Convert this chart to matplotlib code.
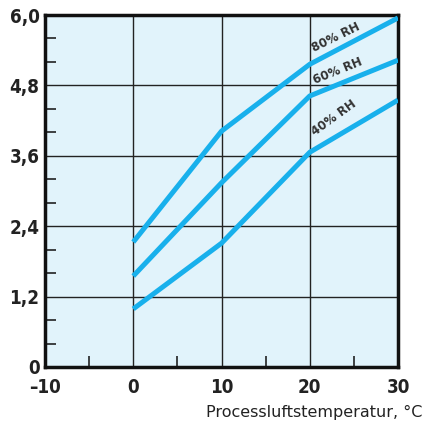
import matplotlib
matplotlib.use("Agg")
import matplotlib.pyplot as plt

temps = [0, 10, 20, 30]
rh80 = [2.13, 4.02, 5.16, 5.95]
rh60 = [1.55, 3.14, 4.62, 5.23]
rh40 = [0.99, 2.11, 3.66, 4.55]

xticks = [-10, 0, 10, 20, 30]
yticks = [0, 1.2, 2.4, 3.6, 4.8, 6.0]
ytick_labels = ["0", "1,2", "2,4", "3,6", "4,8", "6,0"]
xtick_labels = ["\u201310", "0", "10", "20", "30"]

line_color = "#18b0ec"
bg_color = "#e1f3fb"

fig = plt.figure(figsize=(4.26, 4.25), dpi=100)
ax = fig.add_axes([45 / 426, 1 - 367 / 425, 353 / 426, 352 / 425])
ax.set_facecolor(bg_color)

for ys in (rh80, rh60, rh40):
    ax.plot(temps, ys, color=line_color, lw=3.6, solid_capstyle="butt", zorder=3)

ax.set_xlim(-10, 30)
ax.set_ylim(0, 6.0)
ax.set_xticks(xticks)
ax.set_xticklabels(xtick_labels)
ax.set_yticks(yticks)
ax.set_yticklabels(ytick_labels)
ax.set_xticks([-5, 5, 15, 25], minor=True)
ax.set_yticks([0.4, 0.8, 1.6, 2.0, 2.8, 3.2, 4.0, 4.4, 5.2, 5.6], minor=True)
ax.grid(True, which="major", color="#222222", lw=1.0, zorder=1)
ax.tick_params(axis="x", which="major", length=0, pad=8)
ax.tick_params(axis="y", which="major", length=0, pad=4)
ax.tick_params(which="minor", direction="in", length=8, width=1.2, color="#222222")

for lab in ax.get_xticklabels() + ax.get_yticklabels():
    lab.set_fontfamily("DejaVu Sans")
    lab.set_fontstretch("condensed")
    lab.set_fontweight("bold")
    lab.set_fontsize(13.5)
    lab.set_color("#222222")

for s in ax.spines.values():
    s.set_linewidth(2.5)
    s.set_color("#111111")

lbl = dict(fontfamily="DejaVu Sans", fontstretch="condensed", fontweight="bold",
           fontsize=9.5, color="#333333",
           ha="center", va="center", rotation_mode="anchor")
ax.text(23.0, 5.62, "80% RH", rotation=26, **lbl)
ax.text(23.2, 5.04, "60% RH", rotation=22, **lbl)
ax.text(22.7, 4.24, "40% RH", rotation=36, **lbl)

fig.text(422 / 426, 1 - 412 / 425, "Processluftstemperatur, \u00b0C",
         ha="right", va="center", fontsize=11.5, color="#222222")

fig.savefig("out.png", dpi=100, facecolor="white")
